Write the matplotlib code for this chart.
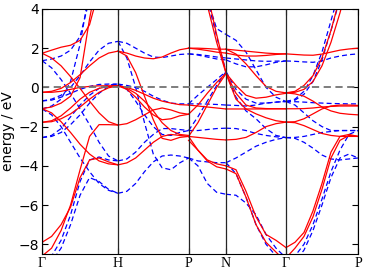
import numpy as np
import matplotlib.pyplot as plt

# special k-points along the path (distance units) and their labels
kpoint_pos = [0.0, 1.0, 1.928, 2.421, 3.211, 4.158]
kpoint_labels = ["\u0393", "H", "P", "N", "\u0393", "P"]

# band energies (eV) read along each path segment, red = solid, blue = dashed
# segment Gamma-H (9 points)
red_GH = [
    [-7.9, -7.6, -7.0, -6.1, -4.6, -3.7, -3.6, -3.8, -3.95],
    [-8.6, -8.2, -7.3, -6.0, -4.2, -2.5, -1.9, -1.9, -1.92],
    [1.74, 1.9, 2.05, 2.15, 2.4, 3.2, 5.0, 6.0, 7.0],
    [1.74, 1.5, 1.1, 0.55, -0.05, -0.7, -1.3, -1.75, -1.92],
    [-0.25, -0.2, -0.05, 0.25, 0.65, 1.1, 1.5, 1.75, 1.85],
    [-1.08, -1.0, -0.8, -0.45, 0.5, 3.5, 6.0, 7.0, 7.0],
    [-1.08, -1.3, -1.75, -2.3, -2.9, -3.4, -3.75, -3.9, -3.95],
    [-1.78, -1.75, -1.6, -1.35, -1.0, -0.6, -0.25, -0.02, 0.08],
    [-1.78, -1.7, -1.45, -1.05, -0.6, -0.25, -0.05, 0.05, 0.08],
    [-0.25, -0.25, -0.2, -0.1, 0.0, 0.05, 0.08, 0.08, 0.08],
]
blue_GH = [
    [1.36, 1.45, 1.6, 1.9, 2.6, 4.5, 6.0, 7.0, 7.0],
    [1.36, 1.0, 0.4, -0.3, -1.1, -1.9, -2.8, -3.5, -3.75],
    [-0.69, -0.6, -0.4, 0.0, 0.6, 1.3, 1.9, 2.25, 2.35],
    [-0.69, -0.65, -0.5, -0.3, -0.1, 0.05, 0.15, 0.17, 0.17],
    [-1.1, -0.95, -0.6, 0.3, 2.2, 5.0, 7.0, 7.0, 7.0],
    [-1.1, -1.4, -2.0, -2.8, -3.6, -4.3, -4.9, -5.25, -5.4],
    [-2.56, -2.5, -2.3, -1.9, -1.4, -0.8, -0.3, 0.05, 0.17],
    [-2.56, -2.45, -2.1, -1.5, -0.9, -0.4, -0.05, 0.12, 0.17],
    [-9.2, -8.9, -8.2, -7.0, -5.5, -4.6, -4.8, -5.2, -5.4],
    [-8.8, -8.6, -7.8, -6.5, -4.8, -3.7, -3.55, -3.7, -3.75],
]

# segment H-P (9 points)
red_HP = [
    [1.85, 1.75, 1.6, 1.5, 1.46, 1.55, 1.75, 1.92, 2.0],
    [1.85, 1.6, 0.75, -0.45, -1.65, -2.6, -2.7, -2.55, -2.5],
    [0.08, 0.0, -0.15, -0.35, -0.55, -0.7, -0.8, -0.88, -0.9],
    [0.08, -0.1, -0.5, -1.0, -1.4, -1.65, -1.6, -1.45, -1.37],
    [0.08, -0.05, -0.3, -0.7, -1.2, -1.8, -2.2, -2.4, -2.45],
    [-1.92, -1.85, -1.65, -1.4, -1.15, -1.05, -1.15, -1.3, -1.37],
    [-3.95, -3.85, -3.6, -3.2, -2.8, -2.5, -2.4, -2.45, -2.5],
]
blue_HP = [
    [2.35, 2.25, 2.0, 1.75, 1.55, 1.52, 1.6, 1.68, 1.71],
    [2.35, 1.5, 0.0, -1.8, -3.4, -4.1, -4.2, -3.85, -3.6],
    [0.17, 0.1, 0.0, -0.2, -0.45, -0.65, -0.8, -0.84, -0.84],
    [0.17, -0.1, -0.7, -1.4, -2.0, -2.4, -2.45, -2.3, -2.2],
    [-3.75, -3.65, -3.3, -2.8, -2.4, -2.1, -2.1, -2.15, -2.2],
    [-5.4, -5.3, -4.9, -4.3, -3.8, -3.5, -3.45, -3.5, -3.6],
]

# segment P-N (5 points)
red_PN = [
    [2.0, 2.0, 1.98, 1.95, 1.95],
    [2.0, 1.95, 1.88, 1.8, 1.75],
    [8.0, 6.0, 4.2, 2.3, 0.72],
    [8.0, 7.0, 4.8, 2.7, 0.75],
    [-1.37, -0.9, -0.3, 0.25, 0.72],
    [-2.5, -1.8, -0.9, 0.0, 0.7],
    [-0.9, -0.95, -1.0, -1.05, -1.1],
    [-2.5, -2.55, -2.6, -2.65, -2.68],
    [-2.5, -3.2, -3.7, -3.9, -4.0],
    [-2.7, -3.2, -3.75, -4.05, -4.16],
]
blue_PN = [
    [1.71, 1.68, 1.62, 1.55, 1.5],
    [1.71, 1.65, 1.55, 1.45, 1.4],
    [8.0, 6.0, 4.5, 2.6, 0.81],
    [8.0, 6.5, 4.5, 3.0, 2.7],
    [-0.84, -0.4, 0.0, 0.4, 0.81],
    [-2.2, -1.5, -0.7, 0.1, 0.8],
    [-0.84, -0.84, -0.85, -0.87, -0.9],
    [-2.2, -2.2, -2.15, -2.1, -2.08],
    [-3.6, -3.75, -3.8, -3.84, -3.84],
    [-3.6, -4.0, -4.9, -5.35, -5.45],
]

# segment N-Gamma (7 points)
red_NG = [
    [1.95, 1.9, 1.85, 1.8, 1.75, 1.72, 1.71],
    [1.95, 1.7, 1.2, 0.6, 0.05, -0.2, -0.28],
    [1.75, 1.65, 1.6, 1.6, 1.63, 1.68, 1.71],
    [0.72, 0.1, -0.4, -0.55, -0.5, -0.38, -0.3],
    [0.7, -0.6, -1.1, -1.35, -1.55, -1.7, -1.77],
    [0.72, -0.3, -0.9, -1.05, -1.08, -1.09, -1.09],
    [-1.1, -1.1, -1.1, -1.1, -1.1, -1.09, -1.09],
    [-2.68, -2.65, -2.55, -2.3, -2.0, -1.85, -1.77],
    [-4.0, -4.2, -5.3, -6.6, -7.5, -7.8, -8.17],
    [-4.16, -4.4, -5.6, -7.0, -7.9, -8.4, -8.9],
]
blue_NG = [
    [1.5, 1.45, 1.4, 1.35, 1.33, 1.34, 1.35],
    [1.4, 1.2, 1.05, 1.05, 1.15, 1.28, 1.35],
    [2.7, 2.4, 1.8, 0.9, 0.0, -0.5, -0.72],
    [0.81, -0.1, -0.6, -0.8, -0.8, -0.75, -0.72],
    [0.75, -0.5, -1.2, -1.6, -2.1, -2.45, -2.56],
    [-0.9, -0.92, -0.95, -0.9, -0.8, -0.75, -0.72],
    [-2.08, -2.1, -2.2, -2.35, -2.45, -2.52, -2.56],
    [-3.84, -3.6, -3.3, -3.0, -2.8, -2.65, -2.56],
    [-5.45, -5.5, -5.9, -6.5, -7.5, -8.2, -8.7],
    [-3.84, -4.4, -5.6, -7.0, -8.0, -8.6, -9.0],
]

# segment Gamma-P (9 points)
red_GP = [
    [1.71, 1.68, 1.65, 1.64, 1.7, 1.8, 1.9, 1.96, 2.0],
    [-0.28, -0.2, 0.1, 0.6, 1.5, 2.9, 4.6, 6.0, 7.0],
    [-0.28, -0.25, -0.1, 0.3, 1.1, 2.3, 3.8, 5.5, 7.0],
    [-0.28, -0.33, -0.45, -0.7, -1.0, -1.2, -1.32, -1.37, -1.4],
    [-1.09, -1.09, -1.08, -1.05, -1.0, -0.97, -0.95, -0.95, -0.95],
    [-1.77, -1.8, -1.95, -2.15, -2.35, -2.45, -2.5, -2.5, -2.5],
    [-1.77, -1.75, -1.6, -1.35, -1.1, -0.95, -0.9, -0.9, -0.92],
    [-8.17, -7.9, -7.4, -6.3, -4.9, -3.3, -2.5, -2.4, -2.5],
    [-8.7, -8.2, -7.6, -6.6, -5.2, -3.6, -2.7, -2.45, -2.5],
]
blue_GP = [
    [1.35, 1.33, 1.3, 1.28, 1.35, 1.5, 1.6, 1.67, 1.71],
    [-0.72, -0.6, -0.2, 0.6, 1.8, 3.4, 5.0, 7.0, 7.0],
    [-0.72, -0.65, -0.35, 0.3, 1.4, 2.9, 4.5, 6.0, 7.0],
    [-0.72, -0.73, -0.75, -0.78, -0.8, -0.82, -0.83, -0.84, -0.84],
    [-0.72, -0.9, -1.3, -1.7, -2.0, -2.2, -2.2, -2.2, -2.2],
    [-2.56, -2.6, -2.8, -3.1, -3.45, -3.65, -3.7, -3.65, -3.6],
    [-2.56, -2.55, -2.5, -2.4, -2.3, -2.25, -2.2, -2.2, -2.2],
    [-9.0, -8.6, -8.0, -7.0, -5.7, -4.3, -3.2, -2.4, -2.2],
    [-9.3, -8.9, -8.3, -7.3, -6.0, -4.6, -3.6, -3.4, -3.6],
]

segments = [
    (0, red_GH, blue_GH),
    (1, red_HP, blue_HP),
    (2, red_PN, blue_PN),
    (3, red_NG, blue_NG),
    (4, red_GP, blue_GP),
]

fig = plt.figure(figsize=(3.66, 2.72), dpi=100)
ax = fig.add_axes([0.115, 0.066, 0.863, 0.901])

for i, reds, blues in segments:
    n = len(reds[0])
    k = np.linspace(kpoint_pos[i], kpoint_pos[i + 1], n)
    for band in blues:
        ax.plot(k, band, color="b", ls="--", lw=0.9, dashes=(4, 2.5))
    for band in reds:
        ax.plot(k, band, color="r", ls="-", lw=0.9)

for x in kpoint_pos:
    ax.axvline(x, color="0.15", lw=0.9)
ax.axhline(0, color="0.45", ls="--", lw=1.3, dashes=(4, 2.5))

ax.set_xlim(kpoint_pos[0], kpoint_pos[-1])
ax.set_ylim(-8.5, 4)
ax.set_xticks(kpoint_pos)
ax.set_xticklabels(kpoint_labels, family="Liberation Serif", fontsize=10)
ax.set_yticks([-8, -6, -4, -2, 0, 2, 4])
ax.tick_params(axis="y", labelsize=10, direction="in", right=True, length=4, pad=2)
ax.tick_params(axis="x", direction="in", top=True, length=4, pad=2)
ax.set_ylabel("energy / eV", fontsize=10, labelpad=3)

fig.savefig("out.png", dpi=100)
